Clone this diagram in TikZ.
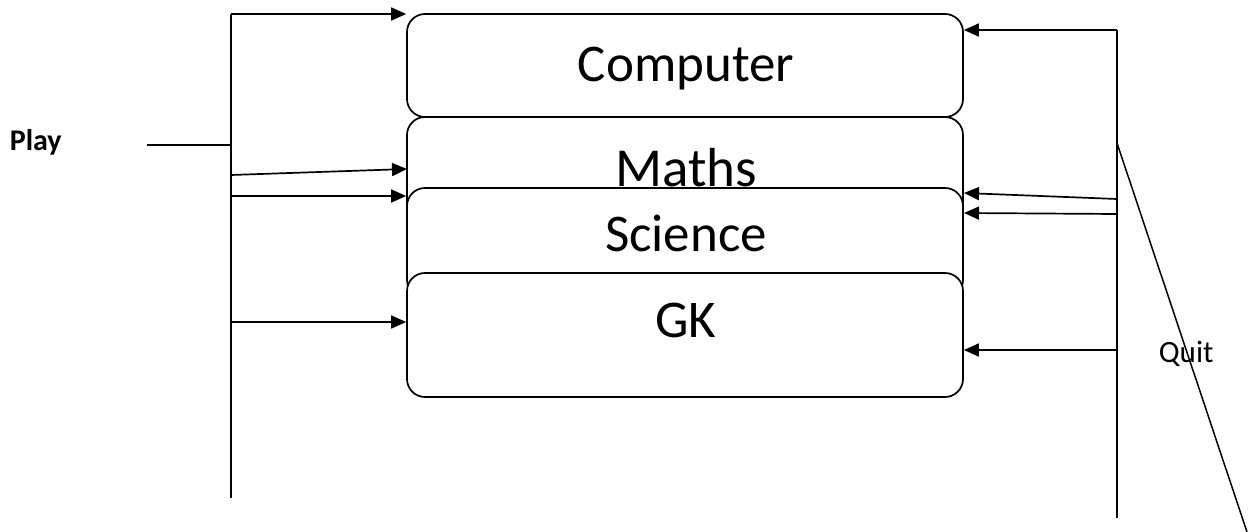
\documentclass[tikz,border=0pt]{standalone}
\usepackage{fontspec}
\setmainfont{Carlito}
\usetikzlibrary{arrows.meta}
\begin{document}
\begin{tikzpicture}[x=1pt,y=-1pt,
  line width=1.7pt,
  box/.style={draw, fill=white, rounded corners=18pt, minimum width=556pt, inner sep=0pt},
  lbl/.style={anchor=base, inner sep=0pt, font=\fontsize{53}{53}\selectfont},
  arr/.style={-{Triangle[length=15pt,width=13pt]}},
  side/.style={anchor=base west, inner sep=0pt},
  ]
\useasboundingbox (0,0) rectangle (1248,532);
% boxes (stacked, later ones overlap earlier ones)
\node[box, minimum height=103pt] (comp) at (685,65.5) {};
\node[box, minimum height=110pt] (maths) at (685,172) {};
\node[box, minimum height=110pt] (sci) at (685,243) {};
\node[box, minimum height=124pt] (gk) at (685,335) {};
\node[lbl] (tcomp) at (686,82) {Computer};
\node[lbl, font=\fontsize{55}{55}\selectfont] (tmaths) at (686,186) {Maths};
\node[lbl] (tsci) at (686,251) {Science};
\node[lbl] (tgk) at (686,337) {GK};
% left bus
\coordinate (lt) at (231,14);
\coordinate (lb) at (231,498);
\draw (lt) -- (lb);
\node[side, font=\bfseries\fontsize{30}{30}\selectfont] (play) at (9,150) {Play};
\coordinate (ps) at (147,145);
\coordinate (pj) at (231,145);
\draw (ps) -- (pj);
\coordinate (l2) at (231,175);
\coordinate (l2e) at (407,169);
\coordinate (l3) at (231,196);
\coordinate (l4) at (231,322);
\draw[arr] (lt) -- (lt -| comp.west);
\draw[arr] (l2) -- (l2e);
\draw[arr] (l3) -- (l3 -| sci.west);
\draw[arr] (l4) -- (l4 -| gk.west);
% right bus
\coordinate (rt) at (1117,30);
\coordinate (rb) at (1117,518);
\draw (rt) -- (rb);
\coordinate (r2) at (1117,199);
\coordinate (r2e) at (964,193);
\coordinate (r3) at (1117,214);
\coordinate (r3e) at (964,213);
\coordinate (r4) at (1117,350);
\draw[arr] (rt) -- (rt -| comp.east);
\draw[arr] (r2) -- (r2e);
\draw[arr] (r3) -- (r3e);
\draw[arr] (r4) -- (r4 -| gk.east);
\node[side, font=\fontsize{31}{31}\selectfont] (quit) at (1158,362) {Quit};
\coordinate (qs) at (1117,143);
\coordinate (qe) at (1247,532);
\draw[line width=1.5pt] (qs) -- (qe);
\end{tikzpicture}
\end{document}
